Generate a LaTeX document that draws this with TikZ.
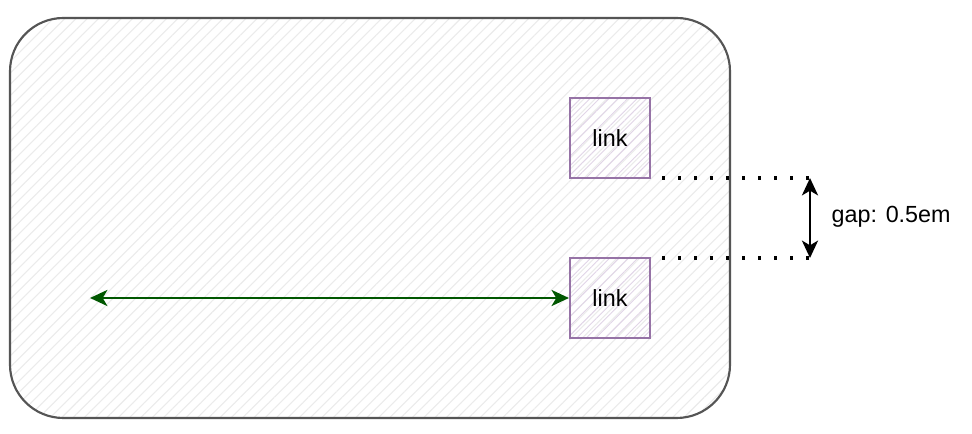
\documentclass[tikz,border=0pt]{standalone}
\usepackage{fontspec}
\setmainfont{Liberation Sans}
\usetikzlibrary{patterns.meta,arrows.meta}
\definecolor{framegray}{HTML}{555555}
\definecolor{hatchgray}{HTML}{EBEBEB}
\definecolor{linkline}{HTML}{9673A6}
\definecolor{linkhatch}{HTML}{E1D5E7}
\definecolor{arrowgreen}{HTML}{005700}
\tikzset{
  linkbox/.style={draw=linkline,line width=1.6pt,minimum size=60pt,inner sep=0pt,
    pattern={Lines[angle=45,distance=5pt,line width=0.7pt]},pattern color=linkhatch,
    font=\fontsize{17.5}{21}\selectfont},
  gapline/.style={line width=2.4pt,dash pattern=on 2.4pt off 9.6pt},
  >={Stealth[length=13pt,width=12pt,inset=3.5pt]},
}
\begin{document}
\begin{tikzpicture}[x=0.75pt,y=-0.75pt]
	\useasboundingbox (0,0) rectangle (972,434);
	\fill[white] (0,0) rectangle (972,434);
	\draw[framegray,line width=1.6pt,rounded corners=40pt,
	  pattern={Lines[angle=45,distance=6pt,line width=0.8pt]},pattern color=hatchgray]
	  (10,18) rectangle (730,418);
	\node[linkbox] (linkA) at (610,138) {link};
	\node[linkbox] (linkB) at (610,298) {link};
	\coordinate (topA) at (662,178);
	\coordinate (topB) at (810,178);
	\coordinate (botA) at (662,258);
	\coordinate (botB) at (810,258);
	\coordinate (start) at (90,298);
	\draw[gapline] (topA) -- (topB);
	\draw[gapline] (botA) -- (botB);
	\draw[line width=2.2pt,<->] (topB) -- (botB);
	\node[anchor=west,font=\fontsize{17.5}{21}\selectfont] (gap) at (827,217) {gap: 0.5em};
	\draw[arrowgreen,line width=2.2pt,<->] (start) -- (linkB.west);
\end{tikzpicture}
\end{document}
